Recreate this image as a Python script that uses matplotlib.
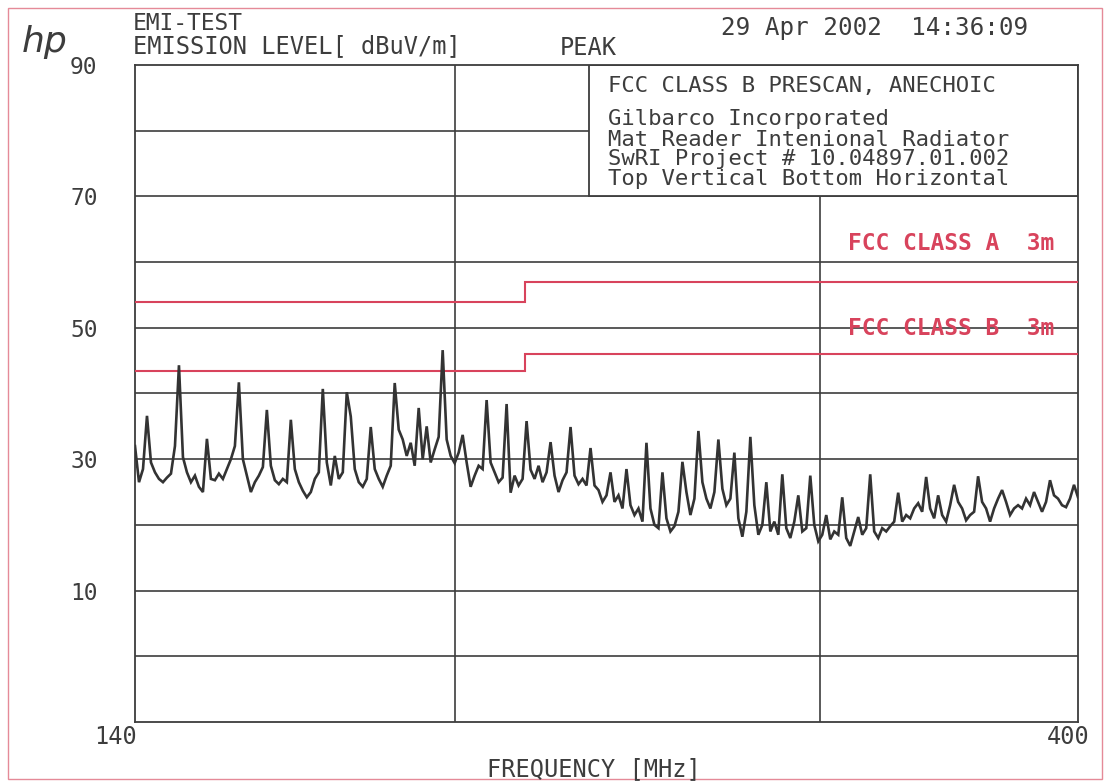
import numpy as np
import matplotlib
matplotlib.use("Agg")
import matplotlib.pyplot as plt
from matplotlib.patches import Rectangle
from matplotlib.ticker import NullLocator

# ---- sweep data (peak detector), dBuV/m over a log-spaced sweep ----
F_START, F_STOP = 140.0, 400.0
level_dbuv = [
    32.0, 26.5, 28.5, 36.6, 29.5, 28.0, 27.0, 26.5, 27.2, 27.8,
    32.0, 44.3, 30.3, 28.0, 26.5, 27.5, 25.8, 25.0, 33.1, 27.0,
    26.8, 27.8, 27.0, 28.5, 30.0, 32.0, 41.7, 30.0, 27.5, 25.0,
    26.5, 27.5, 28.8, 37.5, 29.0, 26.8, 26.2, 27.0, 26.5, 36.0,
    28.5, 26.5, 25.2, 24.2, 25.0, 27.0, 28.0, 40.7, 29.5, 26.0,
    30.5, 27.0, 28.0, 40.2, 36.5, 28.5, 26.5, 25.8, 27.0, 34.9,
    28.5, 27.0, 25.8, 27.5, 29.0, 41.6, 34.5, 33.0, 30.5, 32.5,
    29.0, 37.8, 30.0, 35.0, 29.5, 31.5, 33.4, 46.6, 33.0, 30.5,
    29.4, 31.0, 33.7, 29.5, 25.8, 27.5, 29.0, 28.5, 39.0, 29.5,
    28.0, 26.5, 27.2, 38.4, 24.9, 27.5, 26.0, 27.0, 35.8, 28.4,
    27.0, 29.0, 26.5, 28.0, 32.6, 27.5, 25.0, 26.8, 28.0, 34.9,
    27.5, 26.2, 27.0, 26.0, 31.7, 26.0, 25.3, 23.5, 24.5, 28.0,
    23.5, 24.5, 22.5, 28.5, 23.0, 21.5, 22.5, 20.5, 32.5, 22.5,
    20.0, 19.5, 28.0, 21.0, 19.0, 19.8, 22.0, 29.6, 25.0, 21.5,
    24.0, 34.3, 26.5, 24.0, 22.5, 25.0, 33.0, 25.5, 23.0, 24.0,
    31.0, 21.0, 18.2, 22.0, 33.4, 23.0, 18.5, 20.0, 26.5, 19.0,
    20.5, 18.5, 27.7, 19.5, 18.0, 20.5, 24.5, 19.0, 19.5, 27.5,
    20.0, 17.5, 18.5, 21.5, 17.8, 19.0, 18.5, 24.2, 18.0, 16.8,
    19.0, 21.2, 18.5, 19.5, 27.7, 19.0, 18.0, 19.5, 19.0, 19.8,
    20.5, 24.9, 20.5, 21.5, 21.0, 22.5, 23.3, 22.0, 27.3, 22.5,
    21.0, 24.5, 21.5, 20.5, 23.0, 26.1, 23.5, 22.5, 20.7, 21.5,
    22.0, 27.4, 23.5, 22.5, 20.5, 22.5, 24.0, 25.3, 23.5, 21.5,
    22.5, 23.0, 22.5, 24.0, 23.0, 25.0, 23.5, 22.0, 23.5, 26.8,
    24.5, 24.0, 23.0, 22.7, 24.0, 26.1, 24.2,
]
# receiver sweeps log-spaced points between start and stop frequency
freq_mhz = np.geomspace(F_START, F_STOP, len(level_dbuv))

# FCC Part 15 radiated limits (3 m), band edges in MHz
limit_edges = [140, 216, 400]
class_a_limit = [54.0, 56.9]
class_b_limit = [43.5, 46.0]

y_grid = [0, 10, 20, 30, 40, 50, 60, 70, 80]
x_grid = [200, 300]
y_labels = [90, 70, 50, 30, 10]

INK = "#3d3d3d"
TRACE = "#333333"
RED = "#d8435c"
MONO = "DejaVu Sans Mono"

W, H = 1105, 784
fig = plt.figure(figsize=(W / 100, H / 100), dpi=100)
fig.patch.set_facecolor("white")

L, R, T, B = 135, 1078, 65, 722
ax = fig.add_axes([L / W, 1 - B / H, (R - L) / W, (B - T) / H])
ax.set_xscale("log")
ax.set_xlim(F_START, F_STOP)
ax.set_ylim(-10, 90)
ax.xaxis.set_minor_locator(NullLocator())
ax.set_xticks([])
ax.set_yticks(y_labels)
ax.set_yticklabels([str(v) for v in y_labels], family=MONO, fontsize=16.5, color=INK)
ax.tick_params(axis="y", length=0, pad=27)
for s in ax.spines.values():
    s.set_color(INK)
    s.set_linewidth(1.3)

for yv in y_grid:
    ax.axhline(yv, color=INK, lw=1.2, zorder=1)
for xv in x_grid:
    ax.axvline(xv, color=INK, lw=1.2, zorder=1)

# header panel in the top right corner of the plot
ax.add_patch(Rectangle((0.4814, 0.8), 0.5186, 0.2, transform=ax.transAxes,
                       facecolor="white", edgecolor=INK, lw=1.3, zorder=2))
panel = [
    ("FCC CLASS B PRESCAN, ANECHOIC", 92),
    ("Gilbarco Incorporated", 125),
    ("Mat Reader Intenional Radiator", 146),
    ("SwRI Project # 10.04897.01.002", 165),
    ("Top Vertical Bottom Horizontal", 185),
]
for txt, yb in panel:
    fig.text(608 / W, 1 - yb / H, txt, family=MONO, fontsize=16, color=INK,
             va="baseline", ha="left")

# limit lines
ax.stairs(class_a_limit, limit_edges, baseline=None, color=RED, lw=1.5, zorder=3)
ax.stairs(class_b_limit, limit_edges, baseline=None, color=RED, lw=1.5, zorder=3)
ax.text(0.756, (B - 250) / (B - T), "FCC CLASS A  3m", transform=ax.transAxes,
        family=MONO, fontsize=16.5, fontweight="bold", color=RED, va="baseline", zorder=4)
ax.text(0.756, (B - 335) / (B - T), "FCC CLASS B  3m", transform=ax.transAxes,
        family=MONO, fontsize=16.5, fontweight="bold", color=RED, va="baseline", zorder=4)

# measured trace
ax.plot(freq_mhz, level_dbuv, color=TRACE, lw=1.9, zorder=5, solid_joinstyle="miter")

# frequency labels
ax.annotate("140", xy=(F_START, -10), xycoords="data", xytext=(1.5, -11),
            textcoords="offset points", ha="right", va="center",
            family=MONO, fontsize=17, color=INK, annotation_clip=False)
ax.annotate("400", xy=(F_STOP, -10), xycoords="data", xytext=(8, -11),
            textcoords="offset points", ha="right", va="center",
            family=MONO, fontsize=17, color=INK, annotation_clip=False)
fig.text(594 / W, 1 - 776 / H, "FREQUENCY [MHz]", family=MONO, fontsize=17,
         color=INK, ha="center", va="baseline")

# header lines
fig.text(133 / W, 1 - 30 / H, "EMI-TEST", family=MONO, fontsize=16.5, color=INK, va="baseline")
fig.text(133 / W, 1 - 53 / H, "EMISSION LEVEL[ dBuV/m]", family=MONO, fontsize=17,
         color=INK, va="baseline")
fig.text(560 / W, 1 - 55 / H, "PEAK", family=MONO, fontsize=17, color=INK, va="baseline")
fig.text(721 / W, 1 - 35 / H, "29 Apr 2002  14:36:09", family=MONO, fontsize=17.5,
         color=INK, va="baseline")

# instrument logo
fig.text(22 / W, 1 - 52 / H, "hp", family="DejaVu Sans", fontstyle="italic",
         fontsize=26, color=INK, va="baseline")

# page border
fig.add_artist(Rectangle((8 / W, 1 - 779 / H), (1102 - 8) / W, (779 - 8) / H,
                         transform=fig.transFigure, fill=False,
                         edgecolor="#e58a98", lw=1.0))

fig.savefig("out.png", dpi=100, facecolor="white")
